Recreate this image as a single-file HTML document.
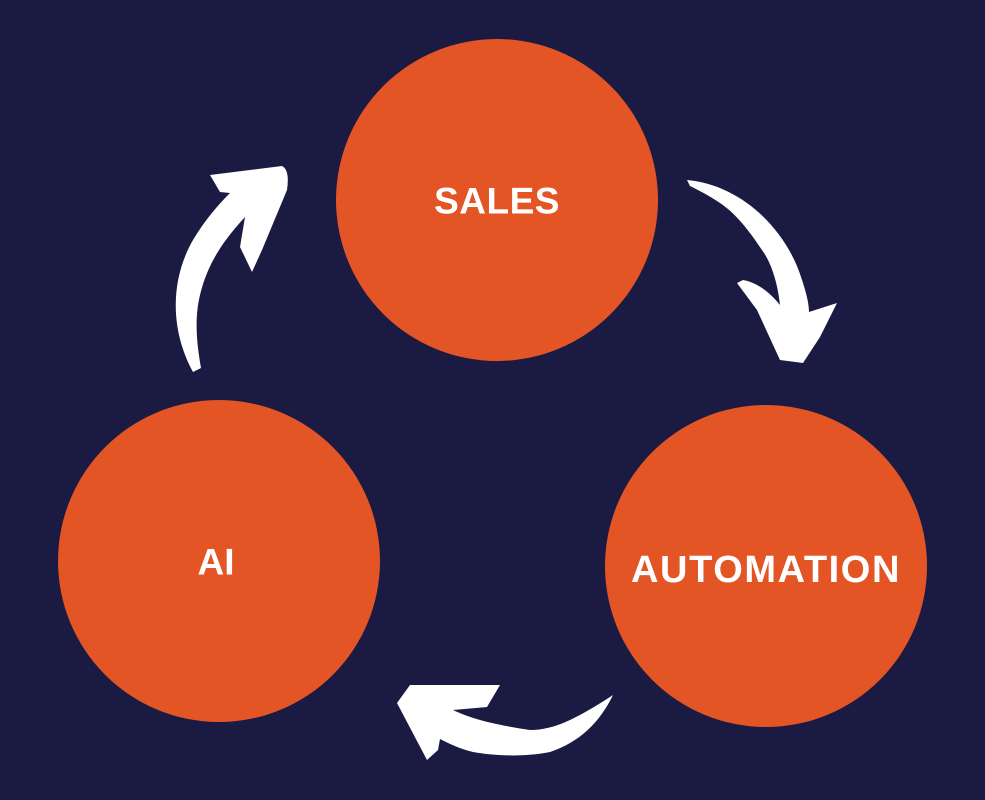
<!DOCTYPE html>
<html><head><style>
html,body{margin:0;padding:0;background:#1b1a42;}
svg{display:block}
text{font-family:"Liberation Sans",sans-serif;font-weight:bold;fill:#fff;text-anchor:middle;dominant-baseline:central}
</style></head><body>
<svg width="985" height="800" viewBox="0 0 985 800">
<rect width="985" height="800" fill="#1b1a42"/>
<circle cx="497" cy="200" r="161" fill="#e35525"/>
<circle cx="219" cy="561" r="161" fill="#e35525"/>
<circle cx="766" cy="566" r="161" fill="#e35525"/>
<text x="497" y="201" font-size="37" letter-spacing="0.5">SALES</text>
<text x="216" y="562" font-size="37">AI</text>
<text x="766" y="570" font-size="38" letter-spacing="1.6">AUTOMATION</text>
<g fill="#fff">
<path d="M193,372 C170,330 170,280 193,240 C205,220 218,205 230,193 L220,192 L210,175 L282,166 Q290,170 287,190 L262,250 L252,272 L240,247 L245,217 C224,240 208,262 200,295 C194,320 197,345 201,368 Z"/>
<path d="M687,180 C742,185 787,230 802,280 C807,295 809,305 809,312 L837,303 L820,337 L803,363 L780,360 L757,310 L737,283 L743,280 C755,282 768,290 780,305 C778,285 772,265 764,253 C752,235 738,215 720,203 C708,195 698,190 690,186 Z"/>
<path d="M613,695 C600,722 580,742 550,752 C520,758 490,755 473,752 C460,749 450,744 440,739 L438,750 L427,760 L397,703 L410,685 L500,685 L487,707 L453,710 C470,718 490,724 530,730 C555,730 577,718 610,697 Z"/>
</g>
</svg>
</body></html>
